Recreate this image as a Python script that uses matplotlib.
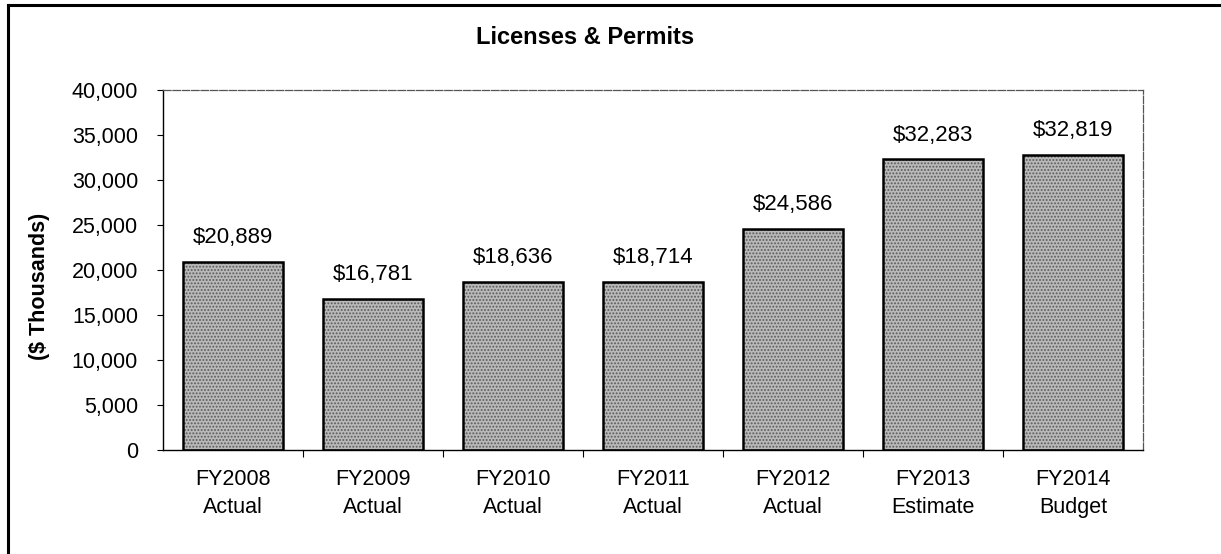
import matplotlib
matplotlib.use("Agg")
import matplotlib.pyplot as plt
from matplotlib.lines import Line2D
from matplotlib.ticker import FuncFormatter, FixedLocator

categories = ["FY2008\nActual", "FY2009\nActual", "FY2010\nActual", "FY2011\nActual",
              "FY2012\nActual", "FY2013\nEstimate", "FY2014\nBudget"]
values = [20889, 16781, 18636, 18714, 24586, 32283, 32819]
y_ticks = [0, 5000, 10000, 15000, 20000, 25000, 30000, 35000, 40000]

plt.rcParams['font.family'] = ['Liberation Sans', 'DejaVu Sans']
plt.rcParams['hatch.linewidth'] = 0.9

W, H = 1221, 554
fig = plt.figure(figsize=(W / 100, H / 100), dpi=100)
ax = fig.add_axes([163 / W, (H - 450) / H, (1143 - 163) / W, (450 - 90) / H])

x = list(range(len(values)))
bw = 0.72
ax.bar(x, values, width=bw, color='#b9b9b9', edgecolor='#5a5a5a', hatch='.....',
       linewidth=0, zorder=2)
ax.bar(x, values, width=bw, fill=False, edgecolor='black', linewidth=1.8, zorder=3)

for xi, v in zip(x, values):
    ax.annotate(f"${v:,}", (xi, v), xytext=(0, 10), textcoords='offset points',
                ha='center', va='bottom', fontsize=16)

ax.set_xlim(-0.5, len(values) - 0.5)
ax.set_ylim(0, 40000)
ax.yaxis.set_major_locator(FixedLocator(y_ticks))
ax.yaxis.set_major_formatter(FuncFormatter(lambda v, p: f"{int(v):,}"))
ax.tick_params(axis='y', labelsize=15.5, length=4, width=0.8, pad=14, direction='out')

ax.set_xticks(x)
ax.set_xticklabels(categories, fontsize=15.5, linespacing=1.4)
ax.tick_params(axis='x', length=0, pad=14)
ax.set_xticks([i + 0.5 for i in range(len(values) - 1)], minor=True)
ax.tick_params(axis='x', which='minor', length=5, width=0.8, direction='out')

for side in ['top', 'right']:
    ax.spines[side].set_color('#555555')
    ax.spines[side].set_linewidth(0.9)
    ax.spines[side].set_linestyle((0, (6, 1.5)))
for side in ['left', 'bottom']:
    ax.spines[side].set_color('black')
    ax.spines[side].set_linewidth(1.0)

fig.text(585 / W, 1 - 37 / H, "Licenses & Permits", ha='center', va='center',
         fontsize=17, fontweight='bold')
fig.text(40 / W, 1 - 286 / H, "($ Thousands)", ha='center', va='center',
         rotation=90, fontsize=15.5, fontweight='bold')

fig.add_artist(Line2D([8 / W, 8 / W], [0, 1 - 5 / H], color='black', linewidth=2.2,
                      transform=fig.transFigure))
fig.add_artist(Line2D([8 / W, 1], [1 - 5 / H, 1 - 5 / H], color='black', linewidth=2.2,
                      transform=fig.transFigure))

fig.savefig("out.png", dpi=100)
